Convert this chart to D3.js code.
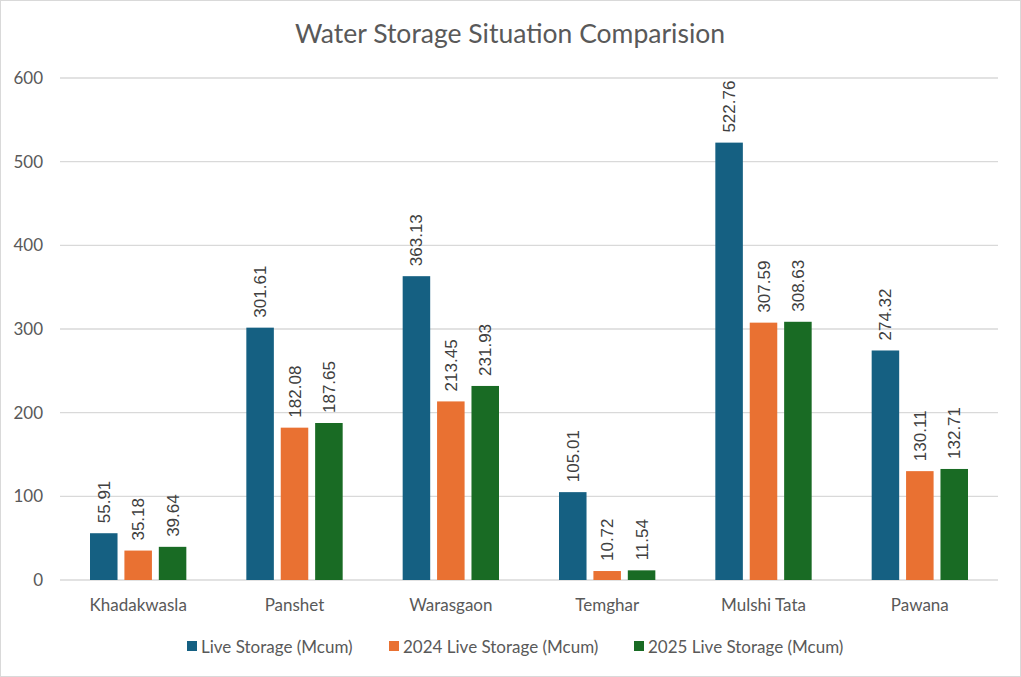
<!DOCTYPE html>
<html><head><meta charset="utf-8">
<script src="https://cdn.jsdelivr.net/npm/d3@7"></script>
<style>body{margin:0;background:#fff}svg{display:block}</style>
</head><body>
<svg id="c" width="1021" height="677"></svg>
<script>
const categories = ["Khadakwasla","Panshet","Warasgaon","Temghar","Mulshi Tata","Pawana"];
const seriesNames = ["Live Storage (Mcum)","2024 Live Storage (Mcum)","2025 Live Storage (Mcum)"];
const liveStorage = [55.91,301.61,363.13,105.01,522.76,274.32];
const storage2024 = [35.18,182.08,213.45,10.72,307.59,130.11];
const storage2025 = [39.64,187.65,231.93,11.54,308.63,132.71];
const yTicks = [0,100,200,300,400,500,600];
const colors = ["#156082","#E97132","#196B24"];
const series = [liveStorage, storage2024, storage2025];

const svg = d3.select("#c");
const font = "Lato, 'Open Sans', sans-serif";
svg.append("rect").attr("x",0.5).attr("y",0.5).attr("width",1020).attr("height",676)
  .attr("fill","#fff").attr("stroke","#d9d9d9");

const L=60,R=998,T=78,B=580;
const x = d3.scaleBand().domain(categories).range([L,R]).paddingInner(0).paddingOuter(0);
const xs = d3.scaleBand().domain(d3.range(3)).range([30, x.bandwidth()-30]).paddingInner(0.2).paddingOuter(0);
const y = d3.scaleLinear().domain([0,600]).range([B,T]);

svg.append("text").attr("x",510).attr("y",43).attr("text-anchor","middle")
  .attr("font-family",font).attr("font-size",26.5).attr("fill","#595959").text("Water Storage Situation Comparision");

const g = svg.append("g");
g.selectAll("line.grid").data(yTicks).join("line").attr("class","grid")
  .attr("x1",L).attr("x2",R).attr("y1",d=>y(d)).attr("y2",d=>y(d))
  .attr("stroke","#d9d9d9").attr("stroke-width",1.3);
g.selectAll("text.yt").data(yTicks).join("text").attr("class","yt")
  .attr("x",43).attr("y",d=>y(d)+6).attr("text-anchor","end")
  .attr("font-family",font).attr("font-size",17).attr("fill","#595959").text(d=>d);
g.selectAll("text.xt").data(categories).join("text").attr("class","xt")
  .attr("x",d=>x(d)+x.bandwidth()/2).attr("y",611).attr("text-anchor","middle")
  .attr("font-family",font).attr("font-size",17).attr("fill","#595959").text(d=>d);

series.forEach((vals,si)=>{
  const sg = g.append("g");
  sg.selectAll("rect").data(vals).join("rect")
    .attr("x",(d,i)=>x(categories[i])+xs(si)).attr("width",xs.bandwidth())
    .attr("y",d=>y(d)).attr("height",d=>B-y(d)).attr("fill",colors[si]);
  sg.selectAll("text").data(vals).join("text")
    .attr("transform",(d,i)=>`translate(${x(categories[i])+xs(si)+xs.bandwidth()/2+6},${y(d)-10}) rotate(-90)`)
    .attr("font-family","'Liberation Sans', Arial, sans-serif").attr("font-size",17).attr("fill","#404040")
    .text(d=>d.toFixed(2));
});

const legX=[187,389,634];
const lg = svg.append("g");
seriesNames.forEach((n,i)=>{
  lg.append("rect").attr("x",legX[i]).attr("y",641).attr("width",10).attr("height",10).attr("fill",colors[i]);
  lg.append("text").attr("x",legX[i]+14).attr("y",652.5).attr("font-family",font).attr("font-size",17)
    .attr("fill","#595959").text(n);
});
</script>
</body></html>
